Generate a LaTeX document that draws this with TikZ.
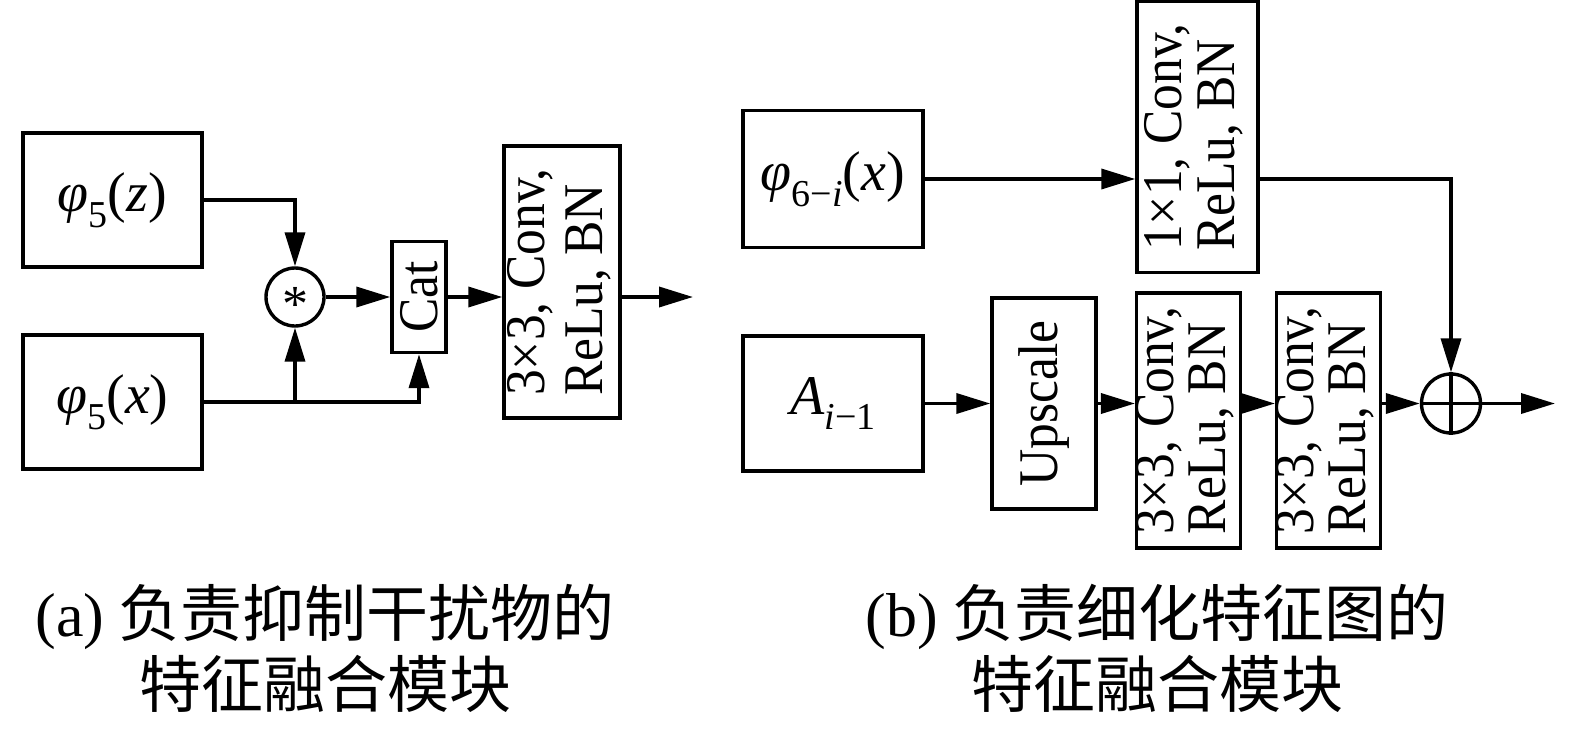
\documentclass[tikz,border=0pt]{standalone}
\usepackage{fontspec}
\setmainfont{Liberation Serif}
\newfontfamily\cjk{Noto Sans CJK SC}
\usetikzlibrary{arrows.meta,calc}
\newcommand\vlab[3]{\rotatebox{90}{\scalebox{0.92}[1]{\fontsize{28}{#1}\selectfont\begin{tabular}{@{}l@{}}#2\\#3\end{tabular}}}}
\newcommand\vone[1]{\rotatebox{90}{\scalebox{0.92}[1]{\fontsize{28}{28}\selectfont #1}}}
\newcommand\lo[1]{\raisebox{-0.28em}{\fontsize{19}{19}\selectfont #1}}
\begin{document}
\begin{tikzpicture}[x=0.5pt,y=-0.5pt,
  box/.style={draw, inner sep=0pt, line width=1.7pt},
  arr/.style={-{Triangle[length=17pt,width=10pt]}, line width=1.8pt},
  lbl/.style={font=\fontsize{28}{28}\selectfont},
  captxt/.style={align=center, font=\cjk\fontsize{31}{35.5}\selectfont}]
\useasboundingbox (0,0) rectangle (1575,729);
% ---- panel (a)
\node[box, minimum width=89.5pt, minimum height=67pt, lbl] (pz) at (112.5,200) {\textit{φ}\lo{5}(\textit{z})};
\node[box, minimum width=89.5pt, minimum height=67pt, lbl] (px) at (112.5,402) {\textit{φ}\lo{5}(\textit{x})};
\node[draw, circle, minimum size=29pt, inner sep=0pt, line width=1.7pt] (st) at (295,297) {\fontsize{26}{26}\selectfont\raisebox{-0.47em}[0pt][0pt]{*}};
\node[box, minimum width=27pt, minimum height=55.5pt] (cat) at (419,297) {\vone{Cat}};
\node[box, minimum width=57pt, minimum height=136pt] (cv) at (562,282) {\vlab{29}{3×3, Conv,}{ReLu, BN}};
\coordinate (o1) at (693,297);
\draw[arr] (pz.east) -| (st.north);
\draw[arr] (px.east) -| (cat.south);
\draw[arr] (px.east -| st.south) -- (st.south);
\draw[arr] (st.east) -- (cat.west);
\draw[arr] (cat.east) -- (cat.east -| cv.west);
\draw[arr] (cv.east |- cat.east) -- (o1);
% ---- panel (b)
\node[box, minimum width=90pt, minimum height=68.5pt, lbl] (ph) at (833,179) {\textit{φ}\lo{6−\textit{i}}(\textit{x})};
\node[box, minimum width=60.5pt, minimum height=135.5pt] (c11) at (1197.5,137) {\vlab{26.5}{1×1, Conv,}{ReLu, BN}};
\node[box, minimum width=90pt, minimum height=67.5pt, lbl] (ai) at (833,403.5) {\textit{A}\lo{\textit{i}−1}};
\node[box, minimum width=52pt, minimum height=105.5pt] (up) at (1044,403.5) {\vone{Upscale}};
\node[box, minimum width=51.5pt, minimum height=127.5pt] (c1) at (1188.5,420.5) {\vlab{25}{3×3, Conv,}{ReLu, BN}};
\node[box, minimum width=51.5pt, minimum height=127.5pt] (c2) at (1328.5,420.5) {\vlab{25}{3×3, Conv,}{ReLu, BN}};
\node[draw, circle, minimum size=29.5pt, inner sep=0pt, line width=1.7pt] (pl) at (1451,403.5) {};
\coordinate (o2) at (1555,403.5);
\draw[line width=1.7pt] (pl.north) -- (pl.south) (pl.west) -- (pl.east);
\draw[arr] (ph.east) -- (ph.east -| c11.west);
\draw[arr] (c11.east |- ph.east) -| (pl.north);
\draw[arr] (ai.east) -- (up.west);
\draw[arr] (up.east) -- (up.east -| c1.west);
\draw[arr] (c1.east |- up.east) -- (c2.west |- up.east);
\draw[arr] (c2.east |- up.east) -- (pl.west);
\draw[arr] (pl.east) -- (o2);
% ---- captions
\node[captxt] (ca) at (325,648) {{\rmfamily (a)} 负责抑制干扰物的\\特征融合模块};
\node[captxt] (cb) at (1157,648) {{\rmfamily (b)} 负责细化特征图的\\特征融合模块};
\end{tikzpicture}
\end{document}
